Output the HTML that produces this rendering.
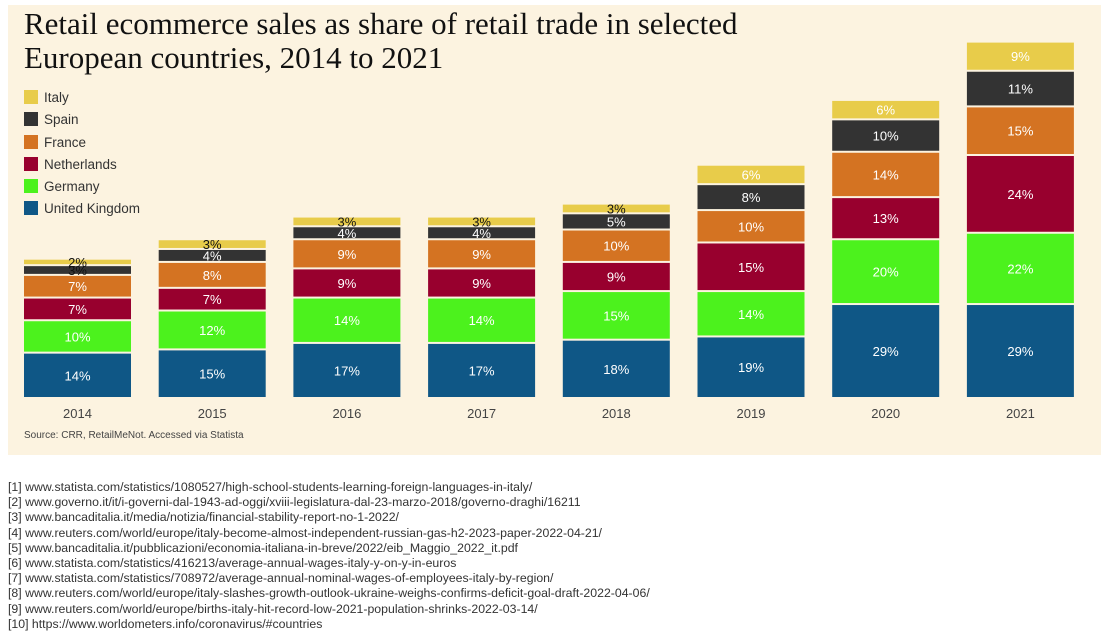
<!DOCTYPE html>
<html><head><meta charset="utf-8"><style>
body{margin:0;width:1107px;height:642px;background:#fff;font-family:"Liberation Sans",sans-serif;position:relative;overflow:hidden}
#panel{position:absolute;left:8px;top:5px;width:1093px;height:450px;background:#fcf3e0}
#title{position:absolute;left:24px;top:7px;font-family:"Liberation Serif",serif;font-size:31px;line-height:34px;color:#111}
.leg{position:absolute;left:24px;font-size:13.5px;color:#333}
.leg i{display:inline-block;width:14px;height:14px;vertical-align:-2px;margin-right:6px}
#src{position:absolute;left:24px;top:430px;font-size:10px;color:#444}
#notes{position:absolute;left:8px;top:480px;font-size:12.3px;line-height:15.2px;color:#333}
</style></head><body>
<div id="panel"></div>
<div id="title">Retail ecommerce sales as share of retail trade in selected<br>European countries, 2014 to 2021</div>
<div class="leg" style="top:90px"><i style="background:#e8cc4a"></i>Italy</div>
<div class="leg" style="top:112px"><i style="background:#333"></i>Spain</div>
<div class="leg" style="top:135px"><i style="background:#d47322"></i>France</div>
<div class="leg" style="top:157px"><i style="background:#98002e"></i>Netherlands</div>
<div class="leg" style="top:179px"><i style="background:#4cf21d"></i>Germany</div>
<div class="leg" style="top:201px"><i style="background:#0f5786"></i>United Kingdom</div>
<svg id="chart" width="1107" height="642" style="position:absolute;left:0;top:0"></svg>
<div id="src">Source: CRR, RetailMeNot. Accessed via Statista</div>
<div id="notes">
[1] www.statista.com/statistics/1080527/high-school-students-learning-foreign-languages-in-italy/<br>
[2] www.governo.it/it/i-governi-dal-1943-ad-oggi/xviii-legislatura-dal-23-marzo-2018/governo-draghi/16211<br>
[3] www.bancaditalia.it/media/notizia/financial-stability-report-no-1-2022/<br>
[4] www.reuters.com/world/europe/italy-become-almost-independent-russian-gas-h2-2023-paper-2022-04-21/<br>
[5] www.bancaditalia.it/pubblicazioni/economia-italiana-in-breve/2022/eib_Maggio_2022_it.pdf<br>
[6] www.statista.com/statistics/416213/average-annual-wages-italy-y-on-y-in-euros<br>
[7] www.statista.com/statistics/708972/average-annual-nominal-wages-of-employees-italy-by-region/<br>
[8] www.reuters.com/world/europe/italy-slashes-growth-outlook-ukraine-weighs-confirms-deficit-goal-draft-2022-04-06/<br>
[9] www.reuters.com/world/europe/births-italy-hit-record-low-2021-population-shrinks-2022-03-14/<br>
[10] https://www.worldometers.info/coronavirus/#countries</div>
<script>
const years=["2014","2015","2016","2017","2018","2019","2020","2021"];
const uk=[14,15,17,17,18,19,29,29];
const germany=[10,12,14,14,15,14,20,22];
const netherlands=[7,7,9,9,9,15,13,24];
const france=[7,8,9,9,10,10,14,15];
const spain=[3,4,4,4,5,8,10,11];
const italy=[2,3,3,3,3,6,6,9];
const series=[[uk,"#0f5786","uk"],[germany,"#4cf21d","germany"],[netherlands,"#98002e","netherlands"],[france,"#d47322","france"],[spain,"#333333","spain"],[italy,"#e8cc4a","italy"]];
const svg=document.getElementById('chart');const NS="http://www.w3.org/2000/svg";
const base=399,k=3.24,bw=107;
const xPos=i=>24+i*134.7;
const yH=v=>v*k;
years.forEach((yr,i)=>{
  let y=base;const x=xPos(i);
  series.forEach(([arr,col,nm])=>{
    const v=arr[i];const h=yH(v);
    const r=document.createElementNS(NS,'rect');
    r.setAttribute('x',x);r.setAttribute('y',y-h);r.setAttribute('width',bw);r.setAttribute('height',Math.max(h-2,1));r.setAttribute('fill',col);
    
    
    svg.appendChild(r);
    const t=document.createElementNS(NS,'text');
    t.setAttribute('x',x+bw/2);t.setAttribute('y',y-h/2+4);t.setAttribute('text-anchor','middle');
    t.setAttribute('font-size','13');t.setAttribute('font-family','Liberation Sans, sans-serif');
    const dark=(nm==='italy'&&v<6)||(nm==='spain'&&v<=3);
    t.setAttribute('fill',dark?'#111':'#fff');t.textContent=v+'%';
    
    
    svg.appendChild(t);
    y-=h;
  });
  const l=document.createElementNS(NS,'text');
  l.setAttribute('x',x+bw/2);l.setAttribute('y',418);l.setAttribute('text-anchor','middle');
  l.setAttribute('font-size','13');l.setAttribute('fill','#444');l.setAttribute('font-family','Liberation Sans, sans-serif');
  l.textContent=yr;
  
  
  svg.appendChild(l);
});
</script>
</body></html>
